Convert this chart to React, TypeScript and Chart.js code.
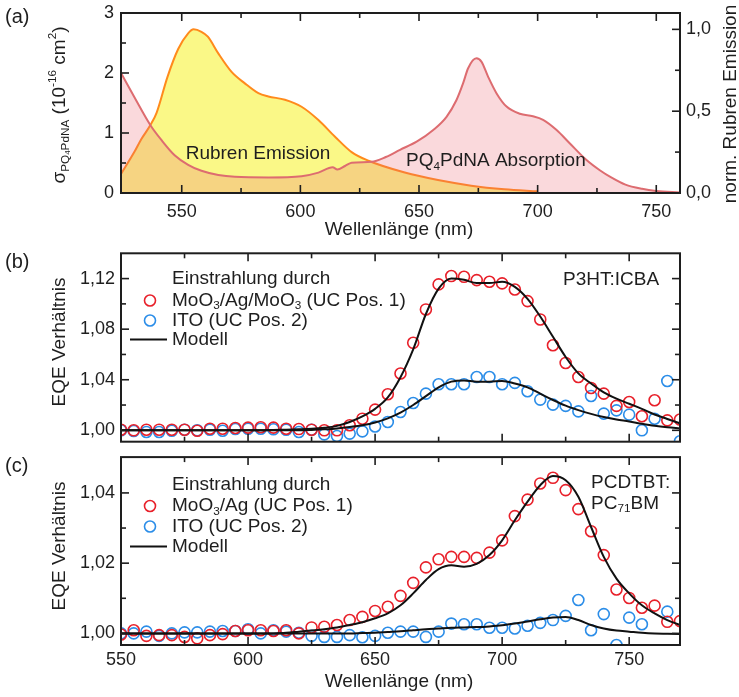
import React, { useEffect, useRef } from 'react';
import { Chart, registerables } from 'chart.js';

Chart.register(...registerables);

const FONT = "'Liberation Sans', Arial, Helvetica, sans-serif";
const INK = '#1e1e1e';
const RED = '#e8202a';
const BLUE = '#2b8de8';

// ---------- Panel (a) ----------
const ABS_NM = [524.4, 530, 536.8, 541.5, 547, 552.7, 558.3, 565.4, 572.4, 586.5,
  600.5, 607.6, 613.6, 615.6, 618.8, 621.6, 630, 636, 642, 649,
  656, 661.6, 665.8, 668.6, 670.7, 674.2, 676.3, 679.1, 682.7, 686.9,
  692.5, 698, 702.3, 708, 713.5, 720.6, 726.2, 731, 737, 744, 750, 760];
const ABS_SIGMA = [2.0, 1.6, 1.13, 0.88, 0.63, 0.47, 0.37, 0.30, 0.27, 0.26,
  0.28, 0.34, 0.43, 0.39, 0.45, 0.505, 0.52, 0.6, 0.72, 0.855,
  1.05, 1.27, 1.55, 1.83, 2.08, 2.245, 2.19, 1.94, 1.66, 1.44,
  1.32, 1.28, 1.22, 1.05, 0.83, 0.55, 0.38, 0.26, 0.14, 0.07, 0.035, 0.01];
const EMI_NM = [524.4, 530, 533, 536.8, 539.4, 544, 548.5, 552.7, 555, 558.3,
  561, 565.4, 571, 576.6, 582.3, 586.5, 593.5, 600.5, 607.6, 614.6,
  621.6, 628.7, 644, 658, 672, 686, 700];
const EMI_NORM = [0.116, 0.25, 0.33, 0.415, 0.49, 0.71, 0.88, 0.976, 1.0, 0.985,
  0.955, 0.853, 0.74, 0.67, 0.61, 0.59, 0.57, 0.527, 0.446, 0.344,
  0.25, 0.197, 0.125, 0.079, 0.045, 0.023, 0.01];
const A_X_TICKS = [550, 575, 600, 625, 650, 675, 700, 725, 750];
const A_X_LABELS = [550, 600, 650, 700, 750];
const A_Y_TICKS = [0, 0.5, 1, 1.5, 2, 2.5, 3];
const A_Y_LABELS = [0, 1, 2, 3];
const A_Y1_TICKS = [0, 0.25, 0.5, 0.75, 1.0];
const A_Y1_LABELS = [0, 0.5, 1.0];

// ---------- Panels (b) and (c) ----------
const WAVELENGTH = [550, 555, 560, 565, 570, 575, 580, 585, 590, 595,
  600, 605, 610, 615, 620, 625, 630, 635, 640, 645,
  650, 655, 660, 665, 670, 675, 680, 685, 690, 695,
  700, 705, 710, 715, 720, 725, 730, 735, 740, 745,
  750, 755, 760, 765, 770];

const B_RED = [1.0005, 1.000, 1.0005, 1.0005, 1.0005, 1.0005, 0.9997, 1.0013, 1.0013, 1.0018,
  1.0021, 1.0024, 1.0021, 1.0013, 1.001, 1.0005, 1.000, 1.000, 1.004, 1.0092,
  1.0164, 1.0285, 1.0449, 1.0692, 1.0956, 1.1154, 1.122, 1.1214, 1.1188, 1.1175,
  1.1162, 1.1114, 1.1022, 1.0877, 1.0673, 1.0533, 1.0422, 1.0335, 1.029, 1.0193,
  1.0224, 1.0111, 1.0238, 1.0079, 1.0085];
const B_BLUE = [1.000, 0.9995, 0.9987, 0.9987, 0.9997, 1.0005, 1.000, 1.0005, 0.9997, 1.001,
  1.0013, 1.0013, 1.0008, 1.0005, 0.9987, 1.0005, 0.9968, 0.9955, 0.9974, 0.9992,
  1.003, 1.0066, 1.0145, 1.0216, 1.029, 1.0364, 1.0364, 1.0364, 1.0422, 1.0422,
  1.0364, 1.0375, 1.0309, 1.0243, 1.0203, 1.0193, 1.015, 1.0272, 1.0132, 1.0158,
  1.0124, 1.000, 1.0092, 1.039, 0.9913];
const B_MODEL_RED = [1.0, 1.0, 1.0, 1.0, 1.0, 1.0, 1.0, 1.0, 1.0, 1.0,
  1.0, 1.0, 1.0003, 1.0005, 1.0008, 1.0012, 1.002, 1.0035, 1.0066, 1.011,
  1.017, 1.026, 1.042, 1.064, 1.092, 1.112, 1.120, 1.119, 1.1165, 1.1165,
  1.1175, 1.1135, 1.104, 1.090, 1.074, 1.058, 1.045, 1.037, 1.030, 1.025,
  1.021, 1.017, 1.0125, 1.009, 1.0055];
const B_MODEL_BLUE = [1.0, 1.0, 1.0, 1.0, 1.0, 1.0, 1.0, 1.0, 1.0, 1.0,
  1.0, 1.0, 1.0, 1.0, 1.0, 1.0003, 1.0008, 1.0015, 1.0026, 1.004,
  1.0062, 1.0095, 1.014, 1.020, 1.027, 1.034, 1.0385, 1.0395, 1.0385, 1.0385,
  1.039, 1.037, 1.034, 1.029, 1.024, 1.0195, 1.016, 1.013, 1.0105, 1.0085,
  1.007, 1.0052, 1.0036, 1.0024, 1.0015];

const C_RED = [0.9997, 1.0009, 0.9993, 0.9995, 0.9995, 0.999, 0.9986, 0.9995, 0.9998, 1.0007,
  1.0009, 1.0009, 1.0007, 1.0009, 1.000, 1.0017, 1.0019, 1.0024, 1.0038, 1.0047,
  1.0064, 1.0076, 1.0107, 1.0144, 1.0188, 1.0211, 1.0218, 1.0218, 1.0215, 1.023,
  1.0265, 1.0334, 1.0381, 1.0427, 1.0443, 1.0408, 1.0354, 1.0291, 1.0223, 1.0125,
  1.0101, 1.0073, 1.0079, 1.0033, 1.0035];
const C_BLUE = [1.000, 1.000, 1.0005, 0.9993, 1.000, 1.0003, 1.0003, 1.0005, 1.0007, 1.0007,
  1.0012, 1.000, 1.0009, 1.0005, 1.0002, 0.9993, 0.999, 0.999, 0.9995, 0.9989,
  0.9993, 1.0002, 1.0005, 1.0005, 0.999, 1.0005, 1.0028, 1.0026, 1.0026, 1.0016,
  1.0016, 1.0014, 1.0022, 1.003, 1.0038, 1.005, 1.0095, 1.0009, 1.0055, 0.9967,
  1.0045, 1.0026, 0.995, 1.0062, 0.995];
const C_MODEL_RED = [1.0, 1.0, 1.0, 1.0, 1.0, 1.0, 1.0, 1.0, 1.0, 1.0,
  1.0, 1.0, 1.0, 1.0002, 1.0005, 1.0008, 1.0012, 1.0017, 1.0024, 1.0032,
  1.0043, 1.0057, 1.008, 1.0114, 1.0152, 1.0183, 1.0194, 1.019, 1.0198, 1.0223,
  1.0265, 1.0322, 1.0375, 1.0422, 1.0448, 1.0436, 1.0389, 1.0303, 1.0218, 1.0156,
  1.0114, 1.008, 1.0057, 1.0038, 1.0024];
const C_MODEL_BLUE = [1.0, 1.0, 1.0, 1.0, 1.0, 1.0, 1.0, 1.0, 1.0, 1.0,
  1.0, 1.0, 1.0, 1.0, 1.0, 1.0, 1.0, 1.0, 1.0, 1.0001,
  1.0002, 1.0004, 1.0006, 1.0009, 1.0012, 1.0014, 1.0016, 1.0017, 1.0018, 1.002,
  1.0023, 1.0028, 1.0034, 1.004, 1.0045, 1.0047, 1.0038, 1.0024, 1.0014, 1.0008,
  1.0005, 1.0002, 1.0, 0.9999, 0.9998];

const BC_X_TICKS = [550, 575, 600, 625, 650, 675, 700, 725, 750];
const BC_X_LABELS = [550, 600, 650, 700, 750];
const B_Y_TICKS = [1.0, 1.02, 1.04, 1.06, 1.08, 1.10, 1.12];
const B_Y_LABELS = [1.0, 1.04, 1.08, 1.12];
const C_Y_TICKS = [1.0, 1.01, 1.02, 1.03, 1.04];
const C_Y_LABELS = [1.0, 1.02, 1.04];

// ---------- helpers ----------
type Seg = { t: string; s?: number; dy?: number };
const N = (t: string): Seg => ({ t });
const SUB = (t: string): Seg => ({ t, s: 0.62, dy: 0.3 });
const SUP = (t: string): Seg => ({ t, s: 0.62, dy: -0.38 });

const near = (list: number[], v: number) => list.some((l) => Math.abs(l - v) < 1e-9);
const comma = (d: number) => (v: number) => v.toFixed(d).replace('.', ',');

function drawRich(ctx: CanvasRenderingContext2D, segs: Seg[], x: number, y: number, size: number, align: string) {
  ctx.save();
  ctx.fillStyle = INK;
  ctx.textBaseline = 'middle';
  ctx.textAlign = 'left';
  const widths = segs.map((g) => {
    ctx.font = `${size * (g.s ?? 1)}px ${FONT}`;
    return ctx.measureText(g.t).width;
  });
  const total = widths.reduce((a, b) => a + b, 0);
  let cx = align === 'center' ? x - total / 2 : align === 'right' ? x - total : x;
  segs.forEach((g, i) => {
    ctx.font = `${size * (g.s ?? 1)}px ${FONT}`;
    ctx.fillText(g.t, cx, y + (g.dy ?? 0) * size);
    cx += widths[i];
  });
  ctx.restore();
}

type TickSpec = { id: string; major: number[]; sides: string[] };
type TextSpec = { segs: Seg[]; x: number; y: number; size?: number; align?: string; rot?: boolean };
type LegendRow = { kind: string; color: string; y: number };

function decorPlugin(offsetTop: number, ticks: TickSpec[], texts: TextSpec[], legend: LegendRow[]) {
  return {
    id: 'decor',
    afterDraw(chart: any) {
      const ctx: CanvasRenderingContext2D = chart.ctx;
      const a = chart.chartArea;
      ctx.save();
      ctx.strokeStyle = INK;
      ctx.lineWidth = 1.6;
      for (const spec of ticks) {
        const sc = chart.scales[spec.id];
        for (const t of sc.ticks) {
          const p = sc.getPixelForValue(t.value);
          const len = near(spec.major, t.value) ? 8 : 5;
          for (const side of spec.sides) {
            ctx.beginPath();
            if (side === 'bottom') { ctx.moveTo(p, a.bottom); ctx.lineTo(p, a.bottom - len); }
            if (side === 'top') { ctx.moveTo(p, a.top); ctx.lineTo(p, a.top + len); }
            if (side === 'left') { ctx.moveTo(a.left, p); ctx.lineTo(a.left + len, p); }
            if (side === 'right') { ctx.moveTo(a.right, p); ctx.lineTo(a.right - len, p); }
            ctx.stroke();
          }
        }
      }
      ctx.lineWidth = 2;
      ctx.strokeRect(a.left, a.top, a.right - a.left, a.bottom - a.top);

      ctx.translate(0, -offsetTop);
      for (const L of legend) {
        if (L.kind === 'circle') {
          ctx.beginPath();
          ctx.lineWidth = 1.6;
          ctx.strokeStyle = L.color;
          ctx.arc(150, L.y, 5.5, 0, Math.PI * 2);
          ctx.stroke();
        } else if (L.kind === 'line') {
          ctx.beginPath();
          ctx.lineWidth = 2;
          ctx.strokeStyle = L.color;
          ctx.moveTo(130, L.y);
          ctx.lineTo(167, L.y);
          ctx.stroke();
        }
      }
      for (const T of texts) {
        const size = T.size ?? 19;
        if (T.rot) {
          ctx.save();
          ctx.translate(T.x, T.y);
          ctx.rotate(-Math.PI / 2);
          drawRich(ctx, T.segs, 0, 0, size, 'center');
          ctx.restore();
        } else {
          drawRich(ctx, T.segs, T.x, T.y, size, T.align ?? 'left');
        }
      }
      ctx.restore();
    },
  };
}

function scale(o: {
  position: string; min: number; max: number; ticks: number[]; labels: number[];
  fmt: (v: number) => string; show: boolean; padding: number; width?: number; height?: number;
}) {
  return {
    type: 'linear',
    position: o.position,
    min: o.min,
    max: o.max,
    grid: { display: false, drawTicks: false },
    border: { display: false },
    ticks: {
      display: o.show,
      padding: o.padding,
      color: INK,
      font: { family: FONT, size: 18 },
      autoSkip: false,
      maxRotation: 0,
      callback: (v: any) => (near(o.labels, Number(v)) ? o.fmt(Number(v)) : ''),
    },
    afterBuildTicks: (s: any) => {
      s.ticks = o.ticks.map((v) => ({ value: v }));
    },
    afterFit: (s: any) => {
      if (o.width != null) s.width = o.width;
      if (o.height != null) s.height = o.height;
      s.paddingTop = 0;
      s.paddingBottom = 0;
      s.paddingLeft = 0;
      s.paddingRight = 0;
    },
  };
}

const xy = (xs: number[], ys: number[]) => xs.map((x, i) => ({ x, y: ys[i] }));

function lineDs(data: any[], color: string) {
  return {
    data, showLine: true, borderColor: color, borderWidth: 2, pointRadius: 0,
    cubicInterpolationMode: 'monotone', fill: false,
  };
}
function pointDs(data: any[], color: string) {
  return {
    data, showLine: false, pointStyle: 'circle', pointRadius: 5.5, pointBorderWidth: 1.6,
    pointBorderColor: color, pointBackgroundColor: 'rgba(0,0,0,0)', borderColor: color,
  };
}

const BASE_OPTS = {
  responsive: false,
  animation: false,
  devicePixelRatio: 1,
  events: [],
  plugins: { legend: { display: false }, tooltip: { enabled: false } },
};

function buildA(): any {
  return {
    type: 'scatter',
    data: {
      datasets: [
        {
          data: xy(ABS_NM, ABS_SIGMA), yAxisID: 'y', showLine: true, order: 1,
          borderColor: 'rgb(221,108,112)', borderWidth: 2, pointRadius: 0,
          cubicInterpolationMode: 'monotone', fill: 'origin', backgroundColor: 'rgba(235,105,115,0.25)',
        },
        {
          data: xy(EMI_NM, EMI_NORM), yAxisID: 'y1', showLine: true, order: 2,
          borderColor: 'rgb(255,138,28)', borderWidth: 2, pointRadius: 0,
          cubicInterpolationMode: 'monotone', fill: 'origin', backgroundColor: 'rgb(250,248,135)',
        },
      ],
    },
    options: {
      ...BASE_OPTS,
      layout: { padding: { top: 13, left: 0, right: 0, bottom: 0 } },
      scales: {
        x: scale({ position: 'bottom', min: 524.4, max: 760, ticks: A_X_TICKS, labels: A_X_LABELS, fmt: (v) => String(v), show: true, padding: 8, height: 47 }),
        y: scale({ position: 'left', min: 0, max: 3, ticks: A_Y_TICKS, labels: A_Y_LABELS, fmt: (v) => String(v), show: true, padding: 7, width: 121 }),
        y1: scale({ position: 'right', min: 0, max: 1.1, ticks: A_Y1_TICKS, labels: A_Y1_LABELS, fmt: comma(1), show: true, padding: 6, width: 59 }),
      },
    },
    plugins: [decorPlugin(0,
      [
        { id: 'x', major: A_X_LABELS, sides: ['bottom', 'top'] },
        { id: 'y', major: A_Y_LABELS, sides: ['left'] },
        { id: 'y1', major: A_Y1_LABELS, sides: ['right'] },
      ],
      [
        { segs: [N('(a)')], x: 5, y: 17, size: 20 },
        { segs: [N('Rubren Emission')], x: 258, y: 154, align: 'center' },
        { segs: [N('PQ'), SUB('4'), N('PdNA Absorption')], x: 406, y: 161 },
        { segs: [N('Wellenlänge (nm)')], x: 399, y: 230, align: 'center' },
        { segs: [N('σ'), SUB('PQ'), { t: '4', s: 0.42, dy: 0.42 }, SUB('PdNA'), N(' (10'), SUP('-16'), N(' cm'), SUP('2'), N(')')], x: 60, y: 105, rot: true },
        { segs: [N('norm. Rubren Emission')], x: 731, y: 104, rot: true },
      ],
      [])],
  };
}

function buildEQE(kind: 'b' | 'c'): any {
  const isB = kind === 'b';
  const off = isB ? 240 : 450;
  const red = isB ? B_RED : C_RED;
  const blue = isB ? B_BLUE : C_BLUE;
  const mRed = isB ? B_MODEL_RED : C_MODEL_RED;
  const mBlue = isB ? B_MODEL_BLUE : C_MODEL_BLUE;
  const yTicks = isB ? B_Y_TICKS : C_Y_TICKS;
  const yLabels = isB ? B_Y_LABELS : C_Y_LABELS;
  const rows = isB ? [279, 300.5, 320.5, 340] : [485, 506, 526.5, 547];
  const texts: TextSpec[] = [
    { segs: [N(isB ? '(b)' : '(c)')], x: 5, y: isB ? 262 : 466, size: 20 },
    { segs: [N('EQE Verhältnis')], x: 60, y: isB ? 342 : 546, rot: true },
    { segs: [N('Einstrahlung durch')], x: 172, y: rows[0] },
    {
      segs: isB
        ? [N('MoO'), SUB('3'), N('/Ag/MoO'), SUB('3'), N(' (UC Pos. 1)')]
        : [N('MoO'), SUB('3'), N('/Ag (UC Pos. 1)')],
      x: 172, y: rows[1],
    },
    { segs: [N('ITO (UC Pos. 2)')], x: 172, y: rows[2] },
    { segs: [N('Modell')], x: 172, y: rows[3] },
  ];
  if (isB) {
    texts.push({ segs: [N('P3HT:ICBA')], x: 563, y: 280 });
  } else {
    texts.push({ segs: [N('PCDTBT:')], x: 591, y: 482.5 });
    texts.push({ segs: [N('PC'), SUB('71'), N('BM')], x: 591, y: 503.5 });
    texts.push({ segs: [N('Wellenlänge (nm)')], x: 399, y: 682, align: 'center' });
  }
  return {
    type: 'scatter',
    data: {
      datasets: [
        lineDs(xy(WAVELENGTH, mRed), '#111'),
        lineDs(xy(WAVELENGTH, mBlue), '#111'),
        pointDs(xy(WAVELENGTH, red), RED),
        pointDs(xy(WAVELENGTH, blue), BLUE),
      ],
    },
    options: {
      ...BASE_OPTS,
      layout: { padding: { top: isB ? 13.3 : 6.7, left: 0, right: 59, bottom: 0 } },
      scales: {
        x: scale({ position: 'bottom', min: 550, max: 770, ticks: BC_X_TICKS, labels: BC_X_LABELS, fmt: (v) => String(v), show: !isB, padding: 4, height: isB ? 8.3 : 52 }),
        y: scale({ position: 'left', min: isB ? 0.991 : 0.9967, max: isB ? 1.14 : 1.0502, ticks: yTicks, labels: yLabels, fmt: comma(2), show: true, padding: 6, width: 121 }),
      },
    },
    plugins: [decorPlugin(off,
      [
        { id: 'x', major: BC_X_LABELS, sides: ['bottom', 'top'] },
        { id: 'y', major: yLabels, sides: ['left', 'right'] },
      ],
      texts,
      [
        { kind: 'circle', color: RED, y: rows[1] },
        { kind: 'circle', color: BLUE, y: rows[2] },
        { kind: 'line', color: '#111', y: rows[3] - 0.5 },
      ])],
  };
}

function Panel({ top, height, build }: { top: number; height: number; build: () => any }) {
  const ref = useRef<HTMLCanvasElement>(null);
  useEffect(() => {
    const chart = new Chart(ref.current as HTMLCanvasElement, build());
    return () => chart.destroy();
  }, []);
  return (
    <canvas
      ref={ref}
      width={739}
      height={height}
      style={{ position: 'absolute', left: 0, top, width: 739, height, display: 'block' }}
    />
  );
}

export default function App() {
  return (
    <div style={{ position: 'absolute', left: 0, top: 0, width: 739, height: 697, background: '#fff', overflow: 'hidden' }}>
      <Panel top={0} height={240} build={buildA} />
      <Panel top={240} height={210} build={() => buildEQE('b')} />
      <Panel top={450} height={247} build={() => buildEQE('c')} />
    </div>
  );
}
